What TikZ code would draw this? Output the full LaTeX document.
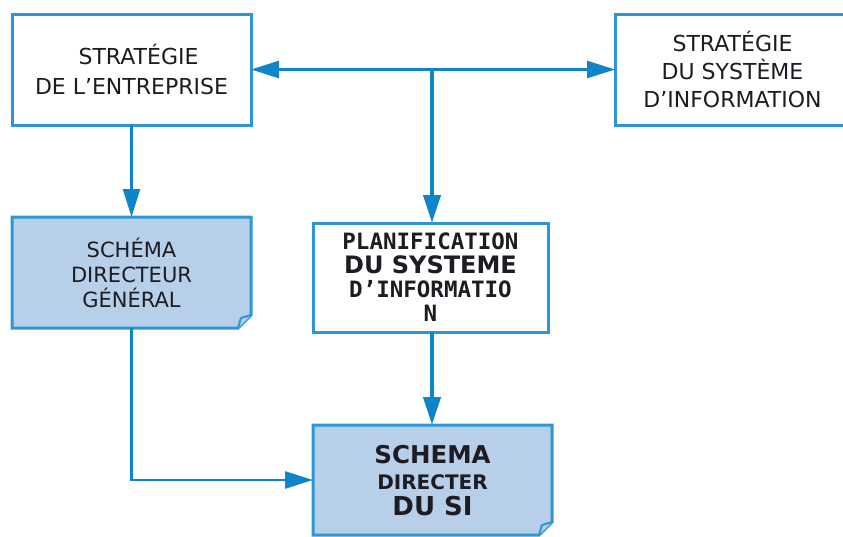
\documentclass[tikz,border=0pt]{standalone}
\usepackage{fontspec}
\setmainfont{DejaVu Sans}
\newfontfamily\monob{DejaVu Sans Mono}
\usetikzlibrary{arrows.meta,calc}
\definecolor{linkblue}{RGB}{16,132,200}
\definecolor{edgeblue}{RGB}{44,150,214}
\definecolor{docfill}{RGB}{183,207,232}
\definecolor{ink}{RGB}{28,28,34}
\newcommand{\fsz}[2]{\fontsize{#1}{#2}\selectfont}
\tikzset{
  box/.style={draw=edgeblue, line width=3pt, fill=white, inner sep=0pt, outer sep=0pt,
    align=center, text=ink, minimum width=#1, minimum height=111pt},
  box/.default=239pt,
  docbox/.style={inner sep=0pt, outer sep=0pt, align=center, text=ink,
    minimum width=239pt, minimum height=#1},
  docbox/.default=111pt,
  label text/.style={align=center, text=ink, inner sep=0pt},
  docline/.style={draw=edgeblue, line width=3pt, fill=docfill, line join=miter},
  foldline/.style={draw=edgeblue, line width=2pt, fill=docfill, line join=round},
  link/.style={draw=linkblue, line width=2.6pt,
    -{Triangle[length=28pt,width=17pt]}},
  trunk/.style={draw=linkblue, line width=4pt,
    -{Triangle[length=28pt,width=17pt]}},
}
\begin{document}
\begin{tikzpicture}[x=1pt,y=-1pt]
  \useasboundingbox (0,0) rectangle (843,536);
  \clip (0,0) rectangle (843,536);

  % plain strategy boxes
  \node[box, font=\fsz{22}{30}] (ent) at (131.5,69.5)
    {\hspace*{14pt}STRATÉGIE\\DE L’ENTREPRISE};
  \node[box=235pt, font=\fsz{22}{28}] (sis) at (732.5,69.5)
    {STRATÉGIE\\DU SYSTÈME\\D’INFORMATION};
  \node[box=235pt, minimum height=109pt, font=\fsz{22.5}{24}\bfseries] (plan) at (430.5,277.5)
    {\monob PLANIFICATION\\
     \fsz{24}{24}DU SYSTEME\\
     \monob D’INFORMATIO\\
     \monob N};

  % document-shaped boxes (folded bottom-right corner)
  \node[docbox] (sdg) at (131.5,272.5) {};
  \node[docbox=110pt] (sdsi) at (432.5,480) {};
  \foreach \d in {sdg,sdsi}{
    \path[docline] (\d.north west) -- (\d.north east)
      -- ($(\d.south east)+(0,13pt)$) -- ($(\d.south east)+(-13pt,0)$)
      -- (\d.south west) -- cycle;
    \path[foldline] ($(\d.south east)+(0,13pt)$) -- ($(\d.south east)+(-10pt,10pt)$)
      -- ($(\d.south east)+(-13pt,0)$);
  }
  \node[label text, font=\fsz{21}{25}] (sdgtext) at (sdg.center)
    {SCHÉMA\\DIRECTEUR\\GÉNÉRAL};
  \node[label text, font=\fsz{22}{26}\bfseries] (sdsitext) at ($(sdsi.center)+(0,-1pt)$)
    {\fsz{24.5}{26}SCHEMA\\\fsz{20}{26}DIRECTER\\\fsz{26}{26}DU SI};

  % connectors
  \coordinate (j) at (432,69.5);
  \draw[link] (j) -- (ent.east);
  \draw[link] (j) -- (sis.west);
  \draw[trunk] (j) -- (j |- plan.north);
  \draw[link] (ent.south) -- (sdg.north);
  \draw[trunk] (j |- plan.south) -- (j |- sdsi.north);
  \draw[link] (sdg.south) |- (sdsi.west);
\end{tikzpicture}
\end{document}
